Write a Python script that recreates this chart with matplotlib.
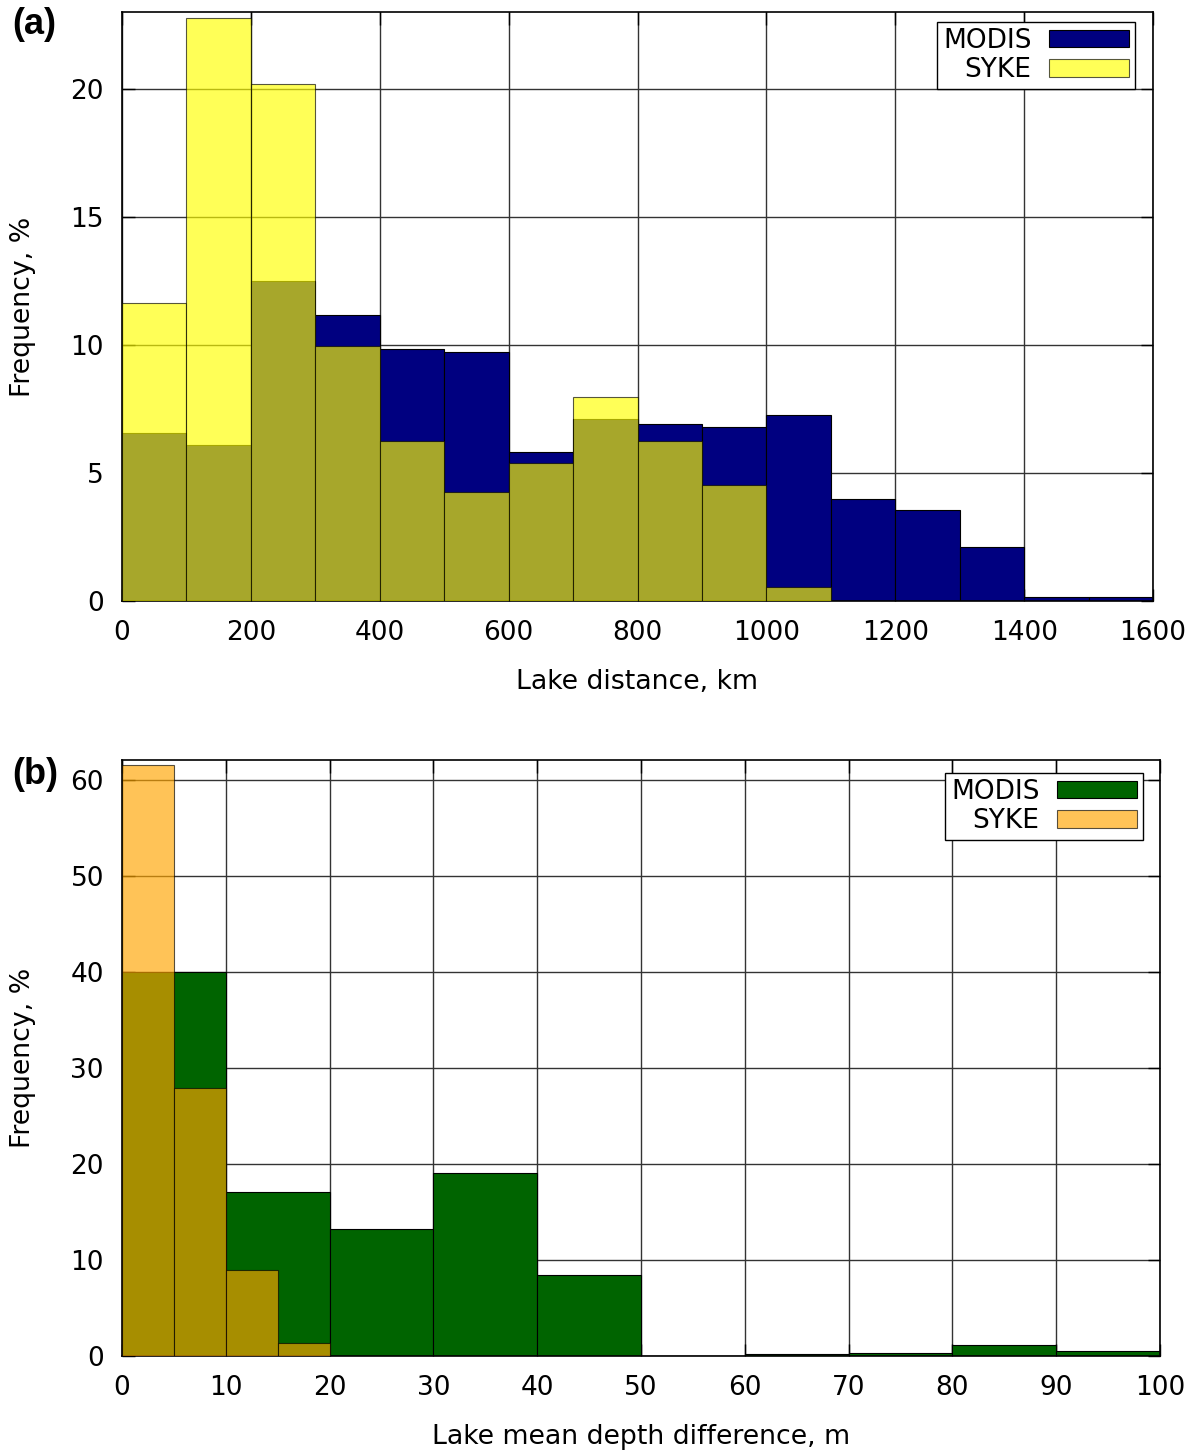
import matplotlib
matplotlib.use("Agg")
import matplotlib.pyplot as plt
import numpy as np

# ---------------- data ----------------
# Panel (a): lake distance, km (bin starts, width 100)
dist_bins = [0, 100, 200, 300, 400, 500, 600, 700, 800, 900, 1000, 1100, 1200, 1300, 1400, 1500]
modis_a = [6.57, 6.10, 12.50, 11.17, 9.83, 9.72, 5.83, 7.10, 6.90, 6.80, 7.28, 3.97, 3.57, 2.12, 0.15, 0.15]
syke_a = [11.65, 22.75, 20.20, 9.94, 6.25, 4.25, 5.40, 7.95, 6.25, 4.54, 0.54, 0, 0, 0, 0, 0]

# Panel (b): lake mean depth difference, m
depth_bins_modis = [0, 10, 20, 30, 40, 50, 60, 70, 80, 90]
modis_b = [40.0, 17.04, 13.25, 19.04, 8.43, 0.0, 0.25, 0.30, 1.10, 0.47]
depth_bins_syke = [0, 5, 10, 15]
syke_b = [61.5, 27.85, 9.0, 1.36]

xticks_a = [0, 200, 400, 600, 800, 1000, 1200, 1400, 1600]
yticks_a = [0, 5, 10, 15, 20]
xticks_b = [0, 10, 20, 30, 40, 50, 60, 70, 80, 90, 100]
yticks_b = [0, 10, 20, 30, 40, 50, 60]

# ---------------- style ----------------
plt.rcParams['font.family'] = ['DejaVu Sans']
FS = 19
LFS = 19.3

fig = plt.figure(figsize=(12, 14.56), dpi=100)
W, H = 1200, 1456

def make_ax(l, r, t, b):
    return fig.add_axes([l / W, 1 - b / H, (r - l) / W, (b - t) / H])

ax1 = make_ax(122, 1153, 12, 601)
ax2 = make_ax(122, 1160, 760, 1356)

def style(ax):
    ax.set_axisbelow(True)
    ax.grid(True, color='#333333', linewidth=1.0)
    ax.tick_params(direction='in', length=9, width=1.0, top=True, right=True,
                   labelsize=FS, color='black')
    ax.tick_params(axis='x', pad=14)
    ax.tick_params(axis='y', pad=13)
    for s in ax.spines.values():
        s.set_linewidth(1.2)
        s.set_color('black')

# Panel (a)
ax1.bar(dist_bins, modis_a, width=100, align='edge', color='#000080',
        edgecolor='black', linewidth=0.8, label='MODIS', zorder=2)
ax1.bar(dist_bins, syke_a, width=100, align='edge', color='#ffff00', alpha=0.66,
        edgecolor='black', linewidth=0.8, label='SYKE', zorder=3)
ax1.set_xlim(0, 1600)
ax1.set_ylim(0, 23)
ax1.set_xticks(xticks_a)
ax1.set_yticks(yticks_a)
style(ax1)
ax1.set_xlabel('Lake distance, km', fontsize=LFS, labelpad=16)
ax1.set_ylabel('Frequency, %', fontsize=LFS, labelpad=25)

# Panel (b)
ax2.bar(depth_bins_modis, modis_b, width=10, align='edge', color='#006400',
        edgecolor='black', linewidth=0.8, label='MODIS', zorder=2)
ax2.bar(depth_bins_syke, syke_b, width=5, align='edge', color='#ffa500', alpha=0.66,
        edgecolor='black', linewidth=0.8, label='SYKE', zorder=3)
ax2.set_xlim(0, 100)
ax2.set_ylim(0, 62.05)
ax2.set_xticks(xticks_b)
ax2.set_yticks(yticks_b)
style(ax2)
ax2.set_xlabel('Lake mean depth difference, m', fontsize=LFS, labelpad=16)
ax2.set_ylabel('Frequency, %', fontsize=LFS, labelpad=25)

# legend anchor offsets in pixels (right, top) from the axes corner
for ax, (dx, dy), (aw, ah) in ((ax1, (18, 10), (1031, 589)),
                               (ax2, (17, 13), (1038, 596))):
    leg = ax.legend(loc='upper right', markerfirst=False, fontsize=FS,
                    bbox_to_anchor=(1 - dx / aw, 1 - dy / ah),
                    fancybox=False, framealpha=1, edgecolor='black',
                    handlelength=3.05, handleheight=0.65, handletextpad=0.65,
                    labelspacing=0.12, borderpad=0.22, borderaxespad=0.0)
    leg.get_frame().set_linewidth(1.0)

fig.text(12 / W, 1 - 24 / H, '(a)', fontsize=26, fontweight='bold',
         family='Liberation Sans', va='center', ha='left')
fig.text(12 / W, 1 - 775 / H, '(b)', fontsize=26, fontweight='bold',
         family='Liberation Sans', va='center', ha='left')

fig.savefig('out.png', dpi=100)
